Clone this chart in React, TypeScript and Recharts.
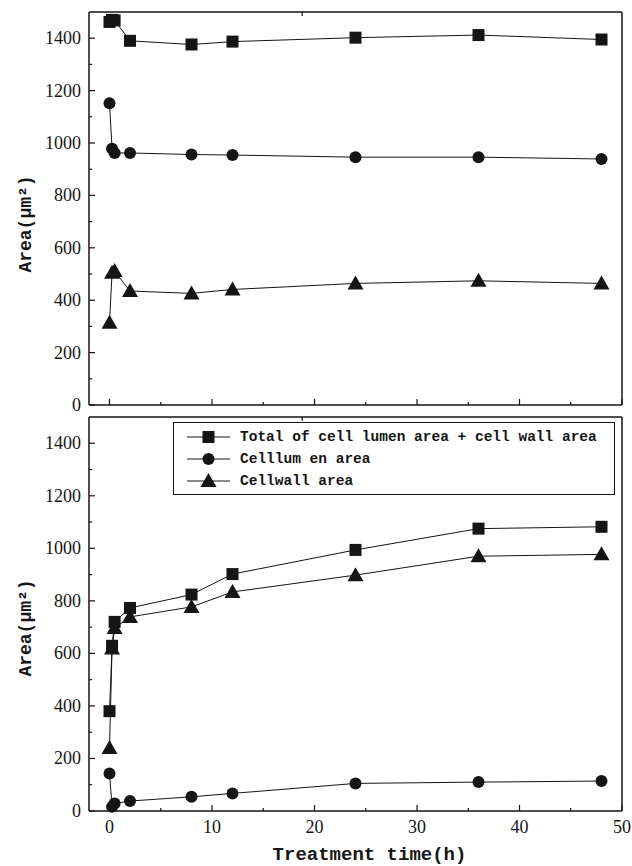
import React from "react";
import { LineChart, Line, XAxis, YAxis, Legend } from "recharts";

const INK = "#151515";
const SERIF = '"Liberation Serif", "DejaVu Serif", serif';
const MONO = '"Liberation Mono", "DejaVu Sans Mono", monospace';

// treatment time (h)
const times = [0, 0.25, 0.5, 2, 8, 12, 24, 36, 48];

// upper panel
const topTotal = [1462, 1470, 1468, 1390, 1376, 1387, 1402, 1412, 1395];
const topLumen = [1152, 978, 962, 962, 956, 954, 946, 946, 939];
const topWall = [314, 505, 511, 435, 426, 441, 464, 474, 464];

// lower panel
const botTotal = [380, 629, 720, 773, 824, 902, 994, 1075, 1082];
const botLumen = [143, 16, 29, 38, 54, 67, 105, 110, 114];
const botWall = [240, 619, 697, 739, 777, 834, 898, 970, 977];

const xTicks = [0, 5, 10, 15, 20, 25, 30, 35, 40, 45, 50];
const yTicks = [0, 100, 200, 300, 400, 500, 600, 700, 800, 900, 1000, 1100, 1200, 1300, 1400];
const topEdgeTicks = [3.2, 8.4, 13.6, 18.8, 24, 29.2, 34.4, 39.6, 44.8];
const rightEdgeTicks = [150, 300, 450, 600, 750, 900, 1050, 1200, 1350];

const seriesNames = [
  "Total of cell lumen area + cell wall area",
  "Celllum en area",
  "Cellwall area",
];

const toRows = (total: number[], lumen: number[], wall: number[]) =>
  times.map((t, i) => ({ t, total: total[i], lumen: lumen[i], wall: wall[i] }));

const topData = toRows(topTotal, topLumen, topWall);
const botData = toRows(botTotal, botLumen, botWall);

const Square = (p: any) =>
  p.cx == null ? <g key={p.key} /> : (
    <rect key={p.key} x={p.cx - 6} y={p.cy - 6} width={12} height={12} fill={INK} />
  );
const Circle = (p: any) =>
  p.cx == null ? <g key={p.key} /> : (
    <circle key={p.key} cx={p.cx} cy={p.cy} r={6} fill={INK} />
  );
const Triangle = (p: any) =>
  p.cx == null ? <g key={p.key} /> : (
    <polygon
      key={p.key}
      points={`${p.cx},${p.cy - 8} ${p.cx - 8},${p.cy + 6} ${p.cx + 8},${p.cy + 6}`}
      fill={INK}
    />
  );

const LeftTick = ({ x, y, payload }: any) => {
  const v = payload.value;
  const major = v % 200 === 0;
  return (
    <g>
      <line x1={x} y1={y} x2={x + (major ? 6 : 3)} y2={y} stroke={INK} strokeWidth={1.2} />
      {major && (
        <text x={x - 8} y={y + 6} textAnchor="end" fontFamily={SERIF} fontSize={18} fill={INK}>
          {v}
        </text>
      )}
    </g>
  );
};

const RightTick = ({ x, y }: any) => (
  <line x1={x} y1={y} x2={x - 4} y2={y} stroke={INK} strokeWidth={1.2} />
);

const TopTick = ({ x, y }: any) => (
  <line x1={x} y1={y} x2={x} y2={y + 4} stroke={INK} strokeWidth={1.2} />
);

const makeBottomTick = (labels: boolean) => ({ x, y, payload }: any) => {
  const v = payload.value;
  const major = v % 10 === 0;
  return (
    <g>
      <line x1={x} y1={y} x2={x} y2={y - (major ? 6 : 3)} stroke={INK} strokeWidth={1.2} />
      {labels && major && (
        <text x={x} y={y + 22} textAnchor="middle" fontFamily={SERIF} fontSize={18} fill={INK}>
          {v}
        </text>
      )}
    </g>
  );
};

const markers = [Square, Circle, Triangle];

const LegendBox = () => (
  <div
    style={{
      width: 442,
      height: 73,
      boxSizing: "border-box",
      border: `1px solid ${INK}`,
      background: "#fff",
      paddingTop: 3,
    }}
  >
    {seriesNames.map((name, i) => {
      const M = markers[i];
      return (
        <div key={name} style={{ display: "flex", alignItems: "center", height: 22 }}>
          <svg width={60} height={22} style={{ marginLeft: 10 }}>
            <line x1={3} y1={11} x2={46} y2={11} stroke={INK} strokeWidth={1} />
            <M cx={24.5} cy={11} key="m" />
          </svg>
          <span
            style={{
              fontFamily: MONO,
              fontWeight: "bold",
              fontSize: 14.5,
              color: INK,
              marginLeft: -4,
              whiteSpace: "pre",
            }}
          >
            {name}
          </span>
        </div>
      );
    })}
  </div>
);

const yLabel = (cy: number) => () => (
  <text
    x={0}
    y={0}
    transform={`translate(31, ${cy}) rotate(-90)`}
    textAnchor="middle"
    fontFamily={MONO}
    fontWeight="bold"
    fontSize={18}
    fill={INK}
  >
    Area(μm²)
  </text>
);

interface PanelProps {
  data: any[];
  height: number;
  margin: { top: number; right: number; bottom: number; left: number };
  bottomLabels: boolean;
  labelY: number;
  legend?: boolean;
}

function Panel({ data, height, margin, bottomLabels, labelY, legend }: PanelProps) {
  const keys = ["total", "lumen", "wall"];
  return (
    <LineChart width={632} height={height} data={data} margin={margin}>
      <XAxis
        dataKey="t"
        type="number"
        domain={[-2, 50]}
        ticks={xTicks}
        height={1}
        tickSize={0}
        tickMargin={0}
        interval={0}
        axisLine={{ stroke: INK, strokeWidth: 1.5 }}
        tick={makeBottomTick(bottomLabels)}
        label={
          bottomLabels
            ? {
                value: "Treatment time(h)",
                position: "bottom",
                offset: 35,
                dx: 14,
                style: { fontFamily: MONO, fontWeight: "bold", fontSize: 19, fill: INK },
              }
            : undefined
        }
      />
      <XAxis
        xAxisId="t"
        orientation="top"
        type="number"
        domain={[-2, 50]}
        ticks={topEdgeTicks}
        height={1}
        tickSize={0}
        tickMargin={0}
        interval={0}
        axisLine={{ stroke: INK, strokeWidth: 1.5 }}
        tick={TopTick}
      />
      <YAxis
        type="number"
        domain={[0, 1500]}
        ticks={yTicks}
        width={1}
        tickSize={0}
        tickMargin={0}
        interval={0}
        axisLine={{ stroke: INK, strokeWidth: 1.5 }}
        tick={LeftTick}
        label={yLabel(labelY)}
      />
      <YAxis
        yAxisId="r"
        orientation="right"
        type="number"
        domain={[0, 1500]}
        ticks={rightEdgeTicks}
        width={1}
        tickSize={0}
        tickMargin={0}
        interval={0}
        axisLine={{ stroke: INK, strokeWidth: 1.5 }}
        tick={RightTick}
      />
      {legend && (
        <Legend
          layout="horizontal"
          verticalAlign="middle"
          align="center"
          wrapperStyle={{ position: "absolute", left: 173, top: 11, width: 442, height: 73 }}
          content={() => <LegendBox />}
        />
      )}
      {keys.map((k, i) => (
        <Line
          key={k}
          dataKey={k}
          name={seriesNames[i]}
          stroke={INK}
          strokeWidth={1}
          dot={markers[i]}
          activeDot={false}
          isAnimationActive={false}
        />
      ))}
    </LineChart>
  );
}

export default function App() {
  return (
    <div
      style={{
        position: "absolute",
        left: 0,
        top: 0,
        width: 632,
        height: 866,
        background: "#fff",
      }}
    >
      {/* upper panel is a bit taller so its "0" label is not clipped; the lower panel overlaps it */}
      <div style={{ position: "absolute", left: 0, top: 0 }}>
        <Panel
          data={topData}
          height={420}
          margin={{ top: 11, right: 9, bottom: 14, left: 88 }}
          bottomLabels={false}
          labelY={224}
        />
      </div>
      <div style={{ position: "absolute", left: 0, top: 411 }}>
        <Panel
          data={botData}
          height={455}
          margin={{ top: 5, right: 9, bottom: 54, left: 88 }}
          bottomLabels={true}
          labelY={217}
          legend
        />
      </div>
    </div>
  );
}
